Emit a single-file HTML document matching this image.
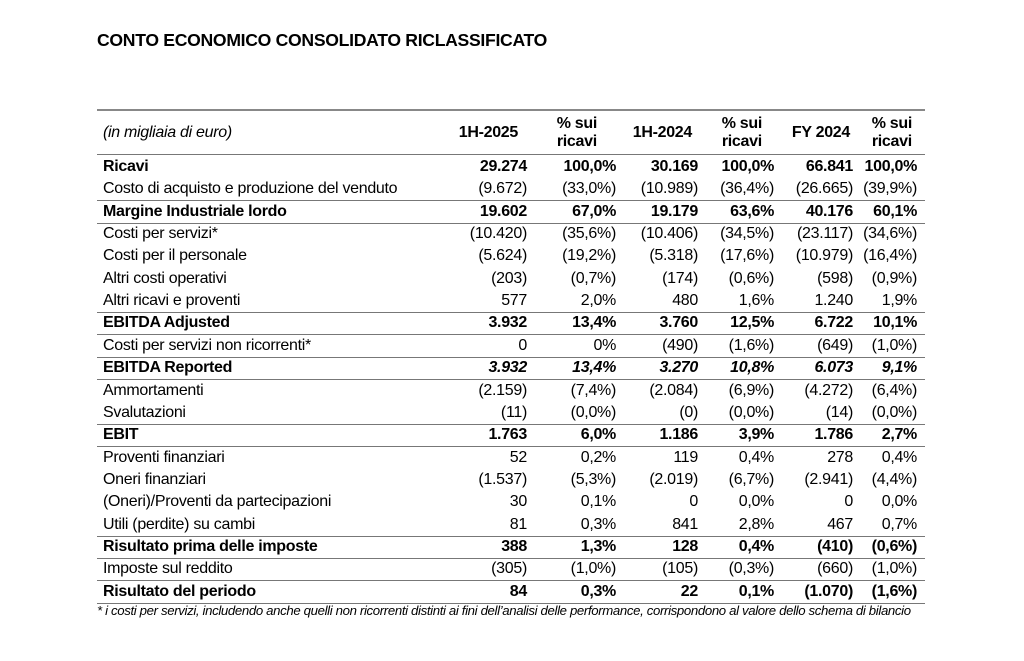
<!DOCTYPE html>
<html><head><meta charset="utf-8"><style>
body{margin:0;width:1024px;height:661px;background:#fff;font-family:"Liberation Sans",sans-serif;color:#000;position:relative;overflow:hidden}
.t{position:absolute;left:97px;top:30px;font-size:17.6px;font-weight:bold;letter-spacing:-0.3px}
.ln{position:absolute;left:97px;width:828px;height:1px;background:#777}
.r{position:absolute;left:97px;width:828px;height:22px;font-size:16px;line-height:22px;letter-spacing:-0.3px}
.r span{position:absolute;top:0;white-space:nowrap}
.l{left:6px}
.c1{right:398px}.c2{right:309px}.c3{right:227px}.c4{right:151px}.c5{right:72px}.c6{right:8px}
.b{font-weight:bold}
.h span{text-align:center;line-height:18px}
.fn{position:absolute;left:97px;top:603px;font-size:13.2px;font-style:italic;white-space:nowrap;letter-spacing:-0.35px}
</style></head><body>
<div class="t">CONTO ECONOMICO CONSOLIDATO RICLASSIFICATO</div>
<div class="ln" style="top:109px;height:2px;background:#888"></div>
<div class="r h" style="top:114px;height:38px">
<span class="l" style="top:10px;font-style:italic">(in migliaia di euro)</span>
<span class="b" style="top:10px;right:407px">1H-2025</span>
<span class="b" style="right:328px;top:1px">% sui<br>ricavi</span>
<span class="b" style="top:10px;right:233px">1H-2024</span>
<span class="b" style="right:163px;top:1px">% sui<br>ricavi</span>
<span class="b" style="top:10px;right:75px">FY 2024</span>
<span class="b" style="right:13px;top:1px">% sui<br>ricavi</span>
</div>
<div class="ln" style="top:154px"></div>
<div id="rows"></div>
<div class="fn">* i costi per servizi, includendo anche quelli non ricorrenti distinti ai fini dell’analisi delle performance, corrispondono al valore dello schema di bilancio</div>
<script>
var d=[
["Ricavi","29.274","100,0%","30.169","100,0%","66.841","100,0%",1],
["Costo di acquisto e produzione del venduto","(9.672)","(33,0%)","(10.989)","(36,4%)","(26.665)","(39,9%)",0,1],
["Margine Industriale lordo","19.602","67,0%","19.179","63,6%","40.176","60,1%",1,1],
["Costi per servizi*","(10.420)","(35,6%)","(10.406)","(34,5%)","(23.117)","(34,6%)"],
["Costi per il personale","(5.624)","(19,2%)","(5.318)","(17,6%)","(10.979)","(16,4%)"],
["Altri costi operativi","(203)","(0,7%)","(174)","(0,6%)","(598)","(0,9%)"],
["Altri ricavi e proventi","577","2,0%","480","1,6%","1.240","1,9%",0,1],
["EBITDA Adjusted","3.932","13,4%","3.760","12,5%","6.722","10,1%",1,1],
["Costi per servizi non ricorrenti*","0","0%","(490)","(1,6%)","(649)","(1,0%)",0,1],
["EBITDA Reported","3.932","13,4%","3.270","10,8%","6.073","9,1%",2,1],
["Ammortamenti","(2.159)","(7,4%)","(2.084)","(6,9%)","(4.272)","(6,4%)"],
["Svalutazioni","(11)","(0,0%)","(0)","(0,0%)","(14)","(0,0%)",0,1],
["EBIT","1.763","6,0%","1.186","3,9%","1.786","2,7%",1,1],
["Proventi finanziari","52","0,2%","119","0,4%","278","0,4%"],
["Oneri finanziari","(1.537)","(5,3%)","(2.019)","(6,7%)","(2.941)","(4,4%)"],
["(Oneri)/Proventi da partecipazioni","30","0,1%","0","0,0%","0","0,0%"],
["Utili (perdite) su cambi","81","0,3%","841","2,8%","467","0,7%",0,1],
["Risultato prima delle imposte","388","1,3%","128","0,4%","(410)","(0,6%)",1,1],
["Imposte sul reddito","(305)","(1,0%)","(105)","(0,3%)","(660)","(1,0%)",0,1],
["Risultato del periodo","84","0,3%","22","0,1%","(1.070)","(1,6%)",1,1]];
var h="";
d.forEach(function(r,i){var top=156+22.35*i;
h+='<div class="r" style="top:'+top+'px">';
h+='<span class="l'+(r[7]?' b':'')+'">'+r[0]+'</span>';
for(var k=1;k<7;k++){h+='<span class="c'+k+(r[7]?' b':'')+'"'+(r[7]==2?' style="font-style:italic"':'')+'>'+r[k]+'</span>';}
h+='</div>';
if(r[8])h+='<div class="ln" style="top:'+Math.round(top+22)+'px"></div>';
});
document.getElementById("rows").innerHTML=h;
</script>
</body></html>
